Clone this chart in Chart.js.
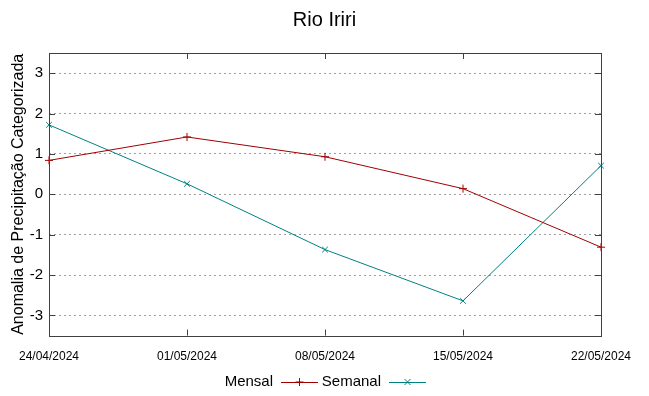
<!DOCTYPE html>
<html>
<head>
<meta charset="utf-8">
<script src="https://cdn.jsdelivr.net/npm/chart.js@4"></script>
<style>
  html, body { margin: 0; padding: 0; background: #fff; }
  #wrap { width: 649px; height: 396px; }
</style>
</head>
<body>
<div id="wrap"><canvas id="myChart" width="649" height="396"></canvas></div>
<script>
const labels = ['24/04/2024', '01/05/2024', '08/05/2024', '15/05/2024', '22/05/2024'];
const mensal = [0.84, 1.42, 0.93, 0.14, -1.31];
const semanal = [1.72, 0.26, -1.37, -2.64, 0.71];
const yTicks = [-3, -2, -1, 0, 1, 2, 3];

// frame around the plot + inward tick marks (gnuplot style)
const framePlugin = {
  id: 'frame',
  afterDatasetsDraw(chart) {
    const ctx = chart.ctx;
    const a = chart.chartArea;
    const x = chart.scales.x, y = chart.scales.y;
    ctx.save();
    ctx.strokeStyle = '#404040';
    ctx.lineWidth = 1;
    ctx.beginPath();
    x.ticks.forEach((t, i) => {
      const px = Math.round(x.getPixelForTick(i)) + 0.5;
      ctx.moveTo(px, a.bottom); ctx.lineTo(px, a.bottom - 6);
      ctx.moveTo(px, a.top); ctx.lineTo(px, a.top + 6);
    });
    y.ticks.forEach((t) => {
      const py = Math.round(y.getPixelForValue(t.value)) + 0.5;
      ctx.moveTo(a.left, py); ctx.lineTo(a.left + 6, py);
      ctx.moveTo(a.right, py); ctx.lineTo(a.right - 6, py);
    });
    ctx.stroke();
    ctx.strokeRect(Math.round(a.left) + 0.5, Math.round(a.top) + 0.5,
      Math.round(a.right - a.left), Math.round(a.bottom - a.top));
    ctx.restore();
  }
};

// legend: text then line sample with marker
const legendPlugin = {
  id: 'gpLegend',
  afterDraw(chart) {
    const ctx = chart.ctx;
    const yPos = 382;
    const items = [
      { ds: chart.data.datasets[0], textRight: 273, lineStart: 281 },
      { ds: chart.data.datasets[1], textRight: 381, lineStart: 389 }
    ];
    ctx.save();
    ctx.font = '15px "Liberation Sans", Arial, sans-serif';
    ctx.fillStyle = '#000';
    ctx.textAlign = 'right';
    ctx.textBaseline = 'middle';
    items.forEach(it => {
      ctx.fillText(it.ds.label, it.textRight, yPos);
      ctx.strokeStyle = it.ds.borderColor;
      ctx.lineWidth = 1;
      ctx.beginPath();
      ctx.moveTo(it.lineStart, yPos + 0.5);
      ctx.lineTo(it.lineStart + 37, yPos + 0.5);
      ctx.stroke();
      const cx = it.lineStart + 18.5;
      ctx.beginPath();
      if (it.ds.pointStyle === 'cross') {
        ctx.moveTo(cx, yPos - 4); ctx.lineTo(cx, yPos + 4);
        ctx.moveTo(cx - 4, yPos); ctx.lineTo(cx + 4, yPos);
      } else {
        ctx.moveTo(cx - 3, yPos - 3); ctx.lineTo(cx + 3, yPos + 3);
        ctx.moveTo(cx - 3, yPos + 3); ctx.lineTo(cx + 3, yPos - 3);
      }
      ctx.stroke();
    });
    ctx.restore();
  }
};

const data = {
  labels: labels,
  datasets: [
    {
      label: 'Mensal',
      data: mensal,
      borderColor: '#a00000',
      backgroundColor: '#a00000',
      borderWidth: 1,
      pointStyle: 'cross',
      pointRadius: 4,
      pointBorderWidth: 1,
      tension: 0
    },
    {
      label: 'Semanal',
      data: semanal,
      borderColor: '#008080',
      backgroundColor: '#008080',
      borderWidth: 1,
      pointStyle: 'crossRot',
      pointRadius: 4,
      pointBorderWidth: 1,
      tension: 0
    }
  ]
};

const config = {
  type: 'line',
  data: data,
  options: {
    responsive: false,
    animation: false,
    layout: { padding: { left: 0, right: 0, top: 0, bottom: 18 } },
    plugins: {
      legend: { display: false },
      tooltip: { enabled: false },
      title: {
        display: true,
        text: 'Rio Iriri',
        color: '#000',
        font: { family: '"Liberation Sans", Arial, sans-serif', size: 20, weight: 'normal' },
        padding: { top: 8, bottom: 21 }
      }
    },
    scales: {
      x: {
        type: 'category',
        offset: false,
        grid: { display: false, drawTicks: false },
        border: { display: false },
        ticks: {
          color: '#000',
          maxRotation: 0,
          autoSkip: false,
          padding: 14,
          font: { family: '"Liberation Sans", Arial, sans-serif', size: 12 }
        }
      },
      y: {
        min: -3.5,
        max: 3.5,
        afterBuildTicks(scale) {
          scale.ticks = yTicks.map(v => ({ value: v }));
        },
        afterFit(scale) {
          scale.width = 49;
        },
        grid: {
          color: '#a0a0a0',
          drawTicks: false
        },
        border: { display: false, dash: [2, 3] },
        ticks: {
          color: '#000',
          padding: 6,
          font: { family: '"Liberation Sans", Arial, sans-serif', size: 15 }
        },
        title: {
          display: true,
          text: 'Anomalia de Precipitação Categorizada',
          color: '#000',
          font: { family: '"Liberation Sans", Arial, sans-serif', size: 16 },
          padding: { top: 9, bottom: 0 }
        }
      },
      yRight: {
        position: 'right',
        min: -3.5,
        max: 3.5,
        grid: { display: false, drawTicks: false },
        border: { display: false },
        ticks: { display: false },
        afterFit(scale) {
          scale.width = 48;
        }
      }
    }
  },
  plugins: [framePlugin, legendPlugin]
};

var myChart = new Chart(document.getElementById('myChart'), config);
</script>
</body>
</html>
